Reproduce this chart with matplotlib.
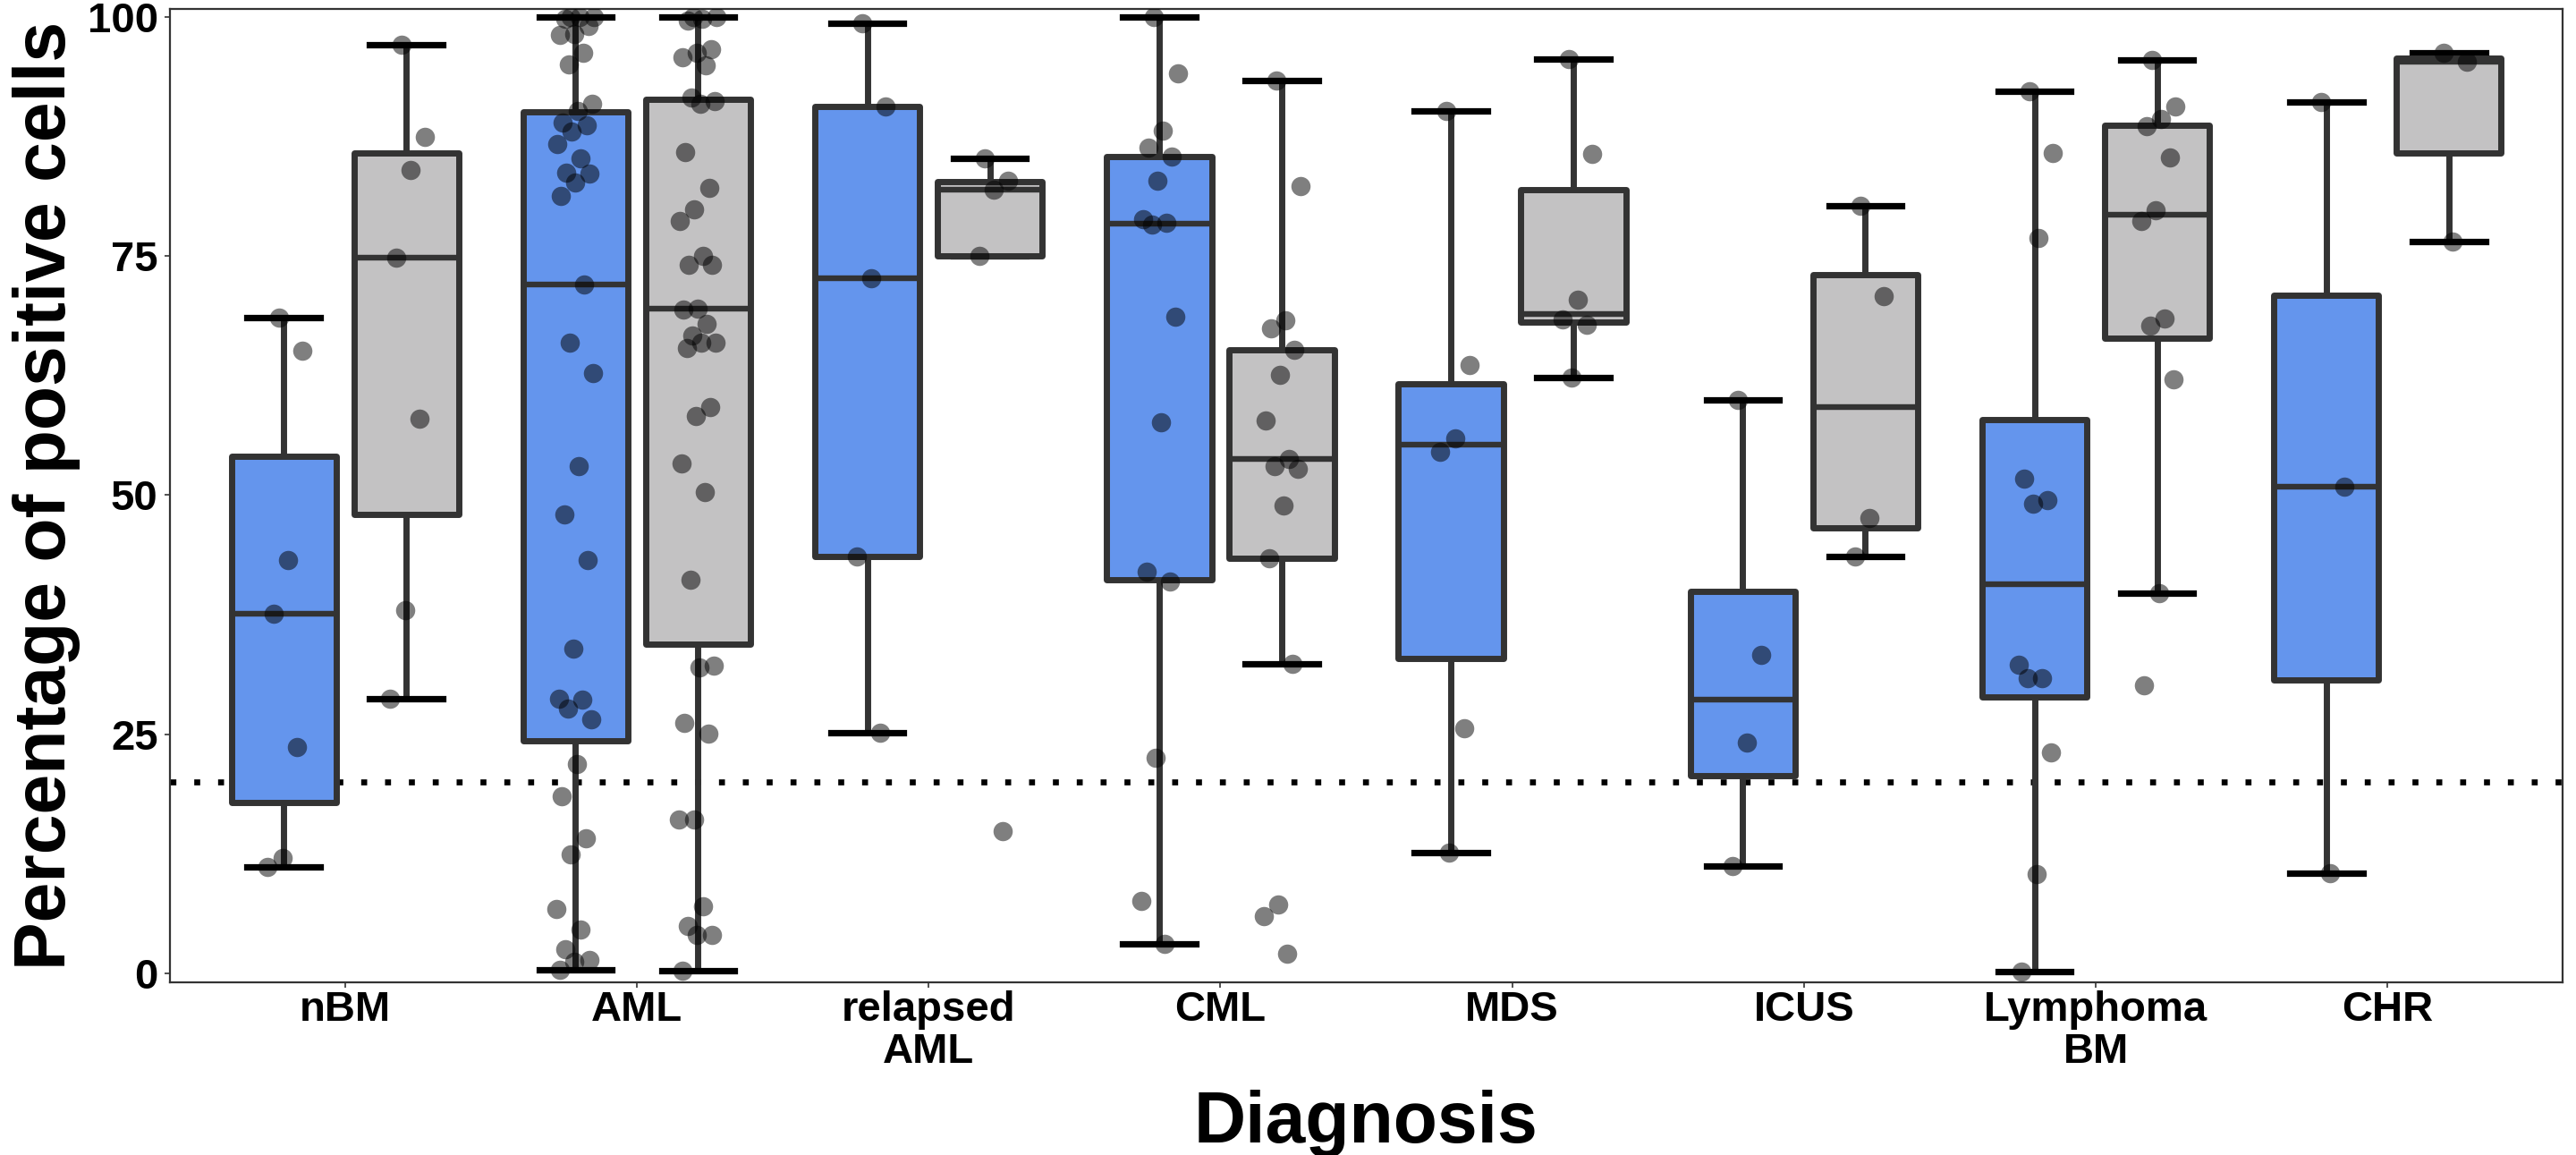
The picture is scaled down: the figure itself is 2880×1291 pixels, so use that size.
import matplotlib
matplotlib.use("Agg")
import matplotlib.pyplot as plt
import numpy as np

plt.rcParams['font.family'] = ['Liberation Sans', 'DejaVu Sans']
plt.rcParams['font.weight'] = 'bold'

categories = ["nBM", "AML", "relapsed\nAML", "CML", "MDS", "ICUS", "Lymphoma\nBM", "CHR"]

# box statistics (blue group)
blue_lo = [11.1, 0.4, 25.2, 3.1, 12.6, 11.2, 0.2, 10.5]
blue_q1 = [17.9, 24.3, 43.6, 41.2, 32.9, 20.7, 28.9, 30.7]
blue_med = [37.6, 72.0, 72.7, 78.4, 55.3, 28.6, 40.7, 50.9]
blue_q3 = [54.1, 90.1, 90.6, 85.4, 61.6, 39.9, 57.9, 70.9]
blue_hi = [68.6, 100.0, 99.3, 100.0, 90.2, 60.0, 92.2, 91.1]

# grey group
grey_lo = [28.7, 0.3, 75.0, 32.4, 62.3, 43.6, 39.8, 76.5]
grey_q1 = [48.0, 34.4, 75.0, 43.4, 68.1, 46.6, 66.4, 85.8]
grey_med = [74.8, 69.5, 81.9, 53.8, 68.9, 59.2, 79.3, 95.3]
grey_q3 = [85.8, 91.4, 82.8, 65.2, 81.9, 73.1, 88.7, 95.7]
grey_hi = [97.1, 100.0, 85.2, 93.4, 95.6, 80.3, 95.5, 96.3]

# individual samples
blue_points = [
    [68.6, 65.1, 43.2, 37.6, 23.7, 12.1, 11.1],
    [100, 100, 100, 99.8, 99.1, 98.2, 98.1, 96.3, 95.0, 90.9, 90.2, 89.0, 88.7, 88.0,
     86.7, 85.2, 83.7, 83.6, 82.7, 81.3, 72.0, 65.9, 62.8, 53.0, 48.0, 43.2, 34.0,
     28.7, 28.6, 27.7, 26.6, 21.9, 18.5, 14.1, 12.4, 6.7, 4.6, 2.5, 1.4, 1.2, 0.4],
    [99.3, 90.6, 72.7, 43.6, 25.2],
    [100, 94.1, 88.1, 86.3, 85.4, 82.9, 78.9, 78.5, 78.3, 68.7, 57.6, 42.0, 41.0, 22.5, 7.6, 3.1],
    [90.2, 63.6, 55.9, 54.5, 25.6, 12.6],
    [60.0, 33.3, 24.1, 11.2],
    [92.2, 85.8, 76.9, 51.7, 49.5, 49.1, 32.3, 30.9, 30.9, 23.1, 10.4, 0.2],
    [91.1, 50.9, 10.5],
]
grey_points = [
    [97.1, 87.5, 84.0, 74.8, 58.0, 38.0, 28.7],
    [100, 100, 99.8, 99.6, 96.6, 96.3, 95.8, 94.9, 91.6, 91.2, 90.9, 85.9, 82.1, 79.9,
     78.7, 75.0, 74.1, 74.1, 69.5, 69.4, 67.9, 66.7, 65.9, 65.9, 65.4, 59.2, 58.3, 53.3,
     50.3, 41.2, 32.2, 32.0, 26.2, 25.1, 16.1, 16.1, 7.0, 5.0, 4.0, 4.0, 0.3],
    [85.2, 82.9, 81.9, 75.0, 14.9],
    [93.4, 82.3, 68.3, 67.4, 65.2, 62.6, 57.8, 53.8, 53.0, 52.8, 48.9, 43.4, 32.4, 7.2, 6.0, 2.1],
    [95.6, 85.7, 70.4, 68.4, 67.8, 62.3],
    [80.3, 70.8, 47.6, 43.6],
    [95.5, 90.6, 89.3, 88.6, 85.3, 79.8, 78.7, 68.5, 67.7, 62.1, 39.8, 30.1],
    [96.3, 95.3, 76.5],
]

threshold = 20

fig = plt.figure(figsize=(14.4, 6.455), dpi=200)
ax = fig.add_axes([190 / 2880, 1 - 1098 / 1291, 2675 / 2880, 1088 / 1291])

x = np.arange(1, len(categories) + 1)
dodge = 0.21
box_w = 0.36
cap_w = 0.25
edge = "#333333"


def draw_group(pos, lo, q1, med, q3, hi, points, color):
    stats = [dict(whislo=a, q1=b, med=c, q3=d, whishi=e)
             for a, b, c, d, e in zip(lo, q1, med, q3, hi)]
    ax.bxp(stats, positions=pos, widths=box_w, patch_artist=True,
           showfliers=False, capwidths=cap_w,
           boxprops=dict(facecolor=color, edgecolor=edge, linewidth=2.5,
                         joinstyle="round", zorder=3),
           whiskerprops=dict(color=edge, linewidth=2.5, zorder=2),
           capprops=dict(color="black", linewidth=2.6, zorder=2.5),
           medianprops=dict(color=edge, linewidth=2.3, zorder=4),
           manage_ticks=False)
    # horizontal jitter, like geom_jitter
    for p, vals in zip(pos, points):
        n = len(vals)
        jit = ((np.arange(n) * 0.618034 + 0.37) % 1 - 0.5) * 2 * 0.065
        ax.scatter(p + jit, vals, s=60, color="black", alpha=0.5,
                   linewidths=0, zorder=5)


ax.axhline(threshold, color="black", linewidth=2.4, linestyle=(0, (1, 3)),
           dash_capstyle="butt", zorder=1)

draw_group(x - dodge, blue_lo, blue_q1, blue_med, blue_q3, blue_hi, blue_points, "#6495ED")
draw_group(x + dodge, grey_lo, grey_q1, grey_med, grey_q3, grey_hi, grey_points, "#C3C2C3")

ax.set_xlim(0.4, 8.6)
ax.set_ylim(-0.94, 100.84)
ax.set_xticks(x)
ax.set_xticklabels(categories, fontsize=17, fontweight="bold", linespacing=1.1)
ax.set_yticks([0, 25, 50, 75, 100])
ax.set_yticklabels(["0", "25", "50", "75", "100"], fontsize=17, fontweight="bold")
ax.tick_params(axis="both", length=2.3, width=0.6, color=edge, pad=2.5)
ax.tick_params(axis="x", pad=0.8)

for s in ax.spines.values():
    s.set_color(edge)
    s.set_linewidth(0.8)

fig.text(73 / 2880, 1 - 554 / 1291, "Percentage of positive cells", rotation=90,
         rotation_mode="anchor", ha="center", va="baseline",
         fontsize=29, fontweight="bold")
fig.text(1527.5 / 2880, 1 - 1277 / 1291, "Diagnosis", ha="center", va="baseline",
         fontsize=29, fontweight="bold")

fig.savefig("out.png", dpi=200)
